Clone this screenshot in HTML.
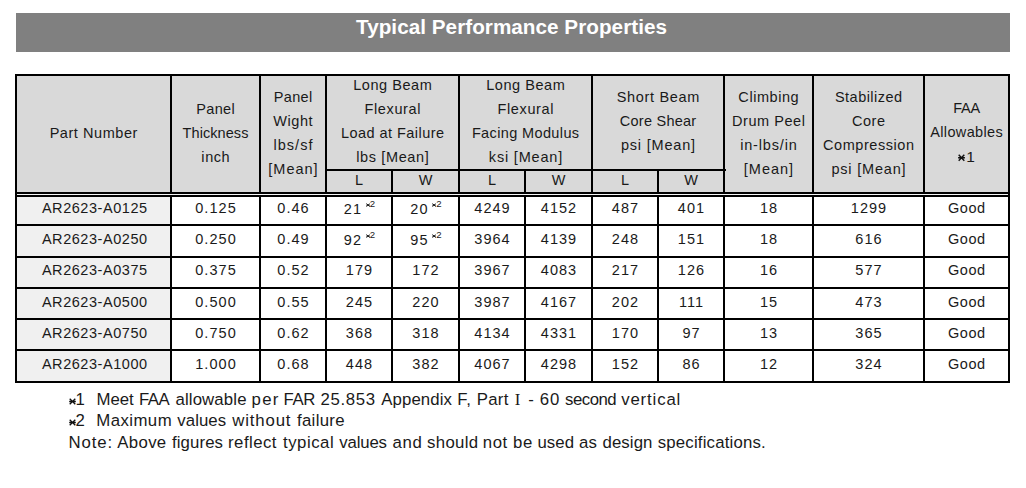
<!DOCTYPE html>
<html><head><meta charset="utf-8"><title>Typical Performance Properties</title>
<style>
html,body{margin:0;padding:0;background:#fff;}
body{width:1026px;height:488px;position:relative;overflow:hidden;font-family:"Liberation Sans",sans-serif;color:#1a1a1a;}
.r{position:absolute;}
.t{position:absolute;text-align:center;white-space:nowrap;line-height:20px;box-sizing:border-box;}
.f{position:absolute;white-space:nowrap;line-height:20px;}
.ast{display:inline-block;vertical-align:baseline;margin-right:1px;}
.sup{font-size:9.6px;position:relative;top:-7px;margin-left:3.6px;letter-spacing:0;}
.sup .ast{margin-right:0;}
.fast{display:inline-block;vertical-align:baseline;margin-right:0px;}
</style></head><body>
<div class="r" style="left:16px;top:13px;width:994px;height:39px;background:#808080"></div>
<div class="r" style="left:17px;top:76px;width:991px;height:116px;background:#d9d9d9"></div>
<div class="r" style="left:17px;top:197px;width:153px;height:184px;background:#f0f0f0"></div>
<div class="r" style="left:15px;top:74px;width:995px;height:2px;background:#000"></div>
<div class="r" style="left:15px;top:192px;width:995px;height:2px;background:#000"></div>
<div class="r" style="left:15px;top:195px;width:995px;height:2px;background:#000"></div>
<div class="r" style="left:15px;top:224px;width:995px;height:2px;background:#000"></div>
<div class="r" style="left:15px;top:256px;width:995px;height:2px;background:#000"></div>
<div class="r" style="left:15px;top:287px;width:995px;height:2px;background:#000"></div>
<div class="r" style="left:15px;top:318px;width:995px;height:2px;background:#000"></div>
<div class="r" style="left:15px;top:349px;width:995px;height:2px;background:#000"></div>
<div class="r" style="left:15px;top:381px;width:995px;height:2px;background:#000"></div>
<div class="r" style="left:325px;top:169px;width:401px;height:2px;background:#000"></div>
<div class="r" style="left:15px;top:74px;width:2px;height:309px;background:#000"></div>
<div class="r" style="left:170px;top:74px;width:2px;height:309px;background:#000"></div>
<div class="r" style="left:259px;top:74px;width:2px;height:309px;background:#000"></div>
<div class="r" style="left:325px;top:74px;width:2px;height:309px;background:#000"></div>
<div class="r" style="left:391px;top:169px;width:2px;height:214px;background:#000"></div>
<div class="r" style="left:458px;top:74px;width:2px;height:309px;background:#000"></div>
<div class="r" style="left:524px;top:169px;width:2px;height:214px;background:#000"></div>
<div class="r" style="left:591px;top:74px;width:2px;height:309px;background:#000"></div>
<div class="r" style="left:657px;top:169px;width:2px;height:214px;background:#000"></div>
<div class="r" style="left:723px;top:74px;width:2px;height:309px;background:#000"></div>
<div class="r" style="left:812px;top:74px;width:2px;height:309px;background:#000"></div>
<div class="r" style="left:923px;top:74px;width:2px;height:309px;background:#000"></div>
<div class="r" style="left:1008px;top:74px;width:2px;height:309px;background:#000"></div>
<div class="r" style="left:17px;top:194px;width:991px;height:1px;background:#f4f4f4"></div>
<div class="t" style="left:17px;width:153px;top:123.21px;font-size:14.5px;letter-spacing:0.55px;padding-left:0.55px;">Part Number</div>
<div class="t" style="left:172px;width:87px;top:99.21px;font-size:14.5px;letter-spacing:0.3px;padding-left:0.3px;">Panel</div>
<div class="t" style="left:172px;width:87px;top:123.21px;font-size:14.5px;letter-spacing:0.063px;padding-left:0.063px;">Thickness</div>
<div class="t" style="left:172px;width:87px;top:147.21px;font-size:14.5px;letter-spacing:0.55px;padding-left:0.55px;">inch</div>
<div class="t" style="left:261px;width:64px;top:87.21px;font-size:14.5px;letter-spacing:0.3px;padding-left:0.3px;">Panel</div>
<div class="t" style="left:261px;width:64px;top:111.21px;font-size:14.5px;letter-spacing:0.55px;padding-left:0.55px;">Wight</div>
<div class="t" style="left:261px;width:64px;top:135.21px;font-size:14.5px;letter-spacing:1.03px;padding-left:1.03px;">lbs/sf</div>
<div class="t" style="left:261px;width:64px;top:159.21px;font-size:14.5px;letter-spacing:0.99px;padding-left:0.99px;">[Mean]</div>
<div class="t" style="left:327px;width:131px;top:75.21px;font-size:14.5px;letter-spacing:0.55px;padding-left:0.55px;">Long Beam</div>
<div class="t" style="left:327px;width:131px;top:99.21px;font-size:14.5px;letter-spacing:0.636px;padding-left:0.636px;">Flexural</div>
<div class="t" style="left:327px;width:131px;top:123.21px;font-size:14.5px;letter-spacing:0.464px;padding-left:0.464px;">Load at Failure</div>
<div class="t" style="left:327px;width:131px;top:147.21px;font-size:14.5px;letter-spacing:0.639px;padding-left:0.639px;">lbs [Mean]</div>
<div class="t" style="left:460px;width:131px;top:75.21px;font-size:14.5px;letter-spacing:0.55px;padding-left:0.55px;">Long Beam</div>
<div class="t" style="left:460px;width:131px;top:99.21px;font-size:14.5px;letter-spacing:0.636px;padding-left:0.636px;">Flexural</div>
<div class="t" style="left:460px;width:131px;top:123.21px;font-size:14.5px;letter-spacing:0.373px;padding-left:0.373px;">Facing Modulus</div>
<div class="t" style="left:460px;width:131px;top:147.21px;font-size:14.5px;letter-spacing:0.806px;padding-left:0.806px;">ksi [Mean]</div>
<div class="t" style="left:593px;width:130px;top:87.21px;font-size:14.5px;letter-spacing:0.683px;padding-left:0.683px;">Short Beam</div>
<div class="t" style="left:593px;width:130px;top:111.21px;font-size:14.5px;letter-spacing:0.239px;padding-left:0.239px;">Core Shear</div>
<div class="t" style="left:593px;width:130px;top:135.21px;font-size:14.5px;letter-spacing:0.806px;padding-left:0.806px;">psi [Mean]</div>
<div class="t" style="left:725px;width:87px;top:87.21px;font-size:14.5px;letter-spacing:0.55px;padding-left:0.55px;">Climbing</div>
<div class="t" style="left:725px;width:87px;top:111.21px;font-size:14.5px;letter-spacing:0.55px;padding-left:0.55px;">Drum Peel</div>
<div class="t" style="left:725px;width:87px;top:135.21px;font-size:14.5px;letter-spacing:0.838px;padding-left:0.838px;">in-lbs/in</div>
<div class="t" style="left:725px;width:87px;top:159.21px;font-size:14.5px;letter-spacing:0.99px;padding-left:0.99px;">[Mean]</div>
<div class="t" style="left:814px;width:109px;top:87.21px;font-size:14.5px;letter-spacing:0.461px;padding-left:0.461px;">Stabilized</div>
<div class="t" style="left:814px;width:109px;top:111.21px;font-size:14.5px;letter-spacing:0.55px;padding-left:0.55px;">Core</div>
<div class="t" style="left:814px;width:109px;top:135.21px;font-size:14.5px;letter-spacing:0.55px;padding-left:0.55px;">Compression</div>
<div class="t" style="left:814px;width:109px;top:159.21px;font-size:14.5px;letter-spacing:0.806px;padding-left:0.806px;">psi [Mean]</div>
<div class="t" style="left:925px;width:83px;top:98.21px;font-size:14.5px;letter-spacing:-0.3px;padding-left:-0.3px;">FAA</div>
<div class="t" style="left:925px;width:83px;top:122.21px;font-size:14.5px;letter-spacing:0.339px;padding-left:0.339px;">Allowables</div>
<div class="t" style="left:925px;width:83px;top:146.88px;font-size:15.5px;letter-spacing:0.3px;padding-left:0.3px;"><svg class="ast" width="7" height="7.5" viewBox="0 0 7 7.5"><path d="M0.7 0.7L6.3 6.8M6.3 0.7L0.7 6.8M0.1 3.75H6.9" stroke="#111" stroke-width="1.4" fill="none"/></svg>1</div>
<div class="t" style="left:327px;width:64px;top:170.21px;font-size:14.5px;letter-spacing:0.55px;padding-left:0.55px;">L</div>
<div class="t" style="left:393px;width:65px;top:170.21px;font-size:14.5px;letter-spacing:0.55px;padding-left:0.55px;">W</div>
<div class="t" style="left:460px;width:64px;top:170.21px;font-size:14.5px;letter-spacing:0.55px;padding-left:0.55px;">L</div>
<div class="t" style="left:526px;width:65px;top:170.21px;font-size:14.5px;letter-spacing:0.55px;padding-left:0.55px;">W</div>
<div class="t" style="left:593px;width:64px;top:170.21px;font-size:14.5px;letter-spacing:0.55px;padding-left:0.55px;">L</div>
<div class="t" style="left:659px;width:64px;top:170.21px;font-size:14.5px;letter-spacing:0.55px;padding-left:0.55px;">W</div>
<div class="t" style="left:18px;width:153px;top:198.21px;font-size:14.5px;letter-spacing:0.55px;padding-left:0.55px;">AR2623-A0125</div>
<div class="t" style="left:172px;width:87px;top:198.21px;font-size:14.5px;letter-spacing:1.05px;padding-left:1.05px;">0.125</div>
<div class="t" style="left:261px;width:64px;top:198.21px;font-size:14.5px;letter-spacing:1.05px;padding-left:1.05px;">0.46</div>
<div class="t" style="left:327px;width:64px;top:199.21px;font-size:14.5px;letter-spacing:1.05px;padding-left:1.05px;">21<span class="sup"><svg class="ast" width="4.2" height="4.2" viewBox="0 0 7 7"><path d="M0.8 0.8L6.2 6.2M6.2 0.8L0.8 6.2M0.2 3.5H6.8" stroke="#111" stroke-width="1.5" fill="none"/></svg>2</span></div>
<div class="t" style="left:393px;width:65px;top:199.21px;font-size:14.5px;letter-spacing:1.05px;padding-left:1.05px;">20<span class="sup"><svg class="ast" width="4.2" height="4.2" viewBox="0 0 7 7"><path d="M0.8 0.8L6.2 6.2M6.2 0.8L0.8 6.2M0.2 3.5H6.8" stroke="#111" stroke-width="1.5" fill="none"/></svg>2</span></div>
<div class="t" style="left:460px;width:64px;top:198.21px;font-size:14.5px;letter-spacing:1.05px;padding-left:1.05px;">4249</div>
<div class="t" style="left:526px;width:65px;top:198.21px;font-size:14.5px;letter-spacing:1.05px;padding-left:1.05px;">4152</div>
<div class="t" style="left:593px;width:64px;top:198.21px;font-size:14.5px;letter-spacing:1.05px;padding-left:1.05px;">487</div>
<div class="t" style="left:659px;width:64px;top:198.21px;font-size:14.5px;letter-spacing:1.05px;padding-left:1.05px;">401</div>
<div class="t" style="left:725px;width:87px;top:198.21px;font-size:14.5px;letter-spacing:1.05px;padding-left:1.05px;">18</div>
<div class="t" style="left:814px;width:109px;top:198.21px;font-size:14.5px;letter-spacing:1.05px;padding-left:1.05px;">1299</div>
<div class="t" style="left:925px;width:83px;top:198.21px;font-size:14.5px;letter-spacing:0.55px;padding-left:0.55px;">Good</div>
<div class="t" style="left:18px;width:153px;top:229.21px;font-size:14.5px;letter-spacing:0.55px;padding-left:0.55px;">AR2623-A0250</div>
<div class="t" style="left:172px;width:87px;top:229.21px;font-size:14.5px;letter-spacing:1.05px;padding-left:1.05px;">0.250</div>
<div class="t" style="left:261px;width:64px;top:229.21px;font-size:14.5px;letter-spacing:1.05px;padding-left:1.05px;">0.49</div>
<div class="t" style="left:327px;width:64px;top:230.21px;font-size:14.5px;letter-spacing:1.05px;padding-left:1.05px;">92<span class="sup"><svg class="ast" width="4.2" height="4.2" viewBox="0 0 7 7"><path d="M0.8 0.8L6.2 6.2M6.2 0.8L0.8 6.2M0.2 3.5H6.8" stroke="#111" stroke-width="1.5" fill="none"/></svg>2</span></div>
<div class="t" style="left:393px;width:65px;top:230.21px;font-size:14.5px;letter-spacing:1.05px;padding-left:1.05px;">95<span class="sup"><svg class="ast" width="4.2" height="4.2" viewBox="0 0 7 7"><path d="M0.8 0.8L6.2 6.2M6.2 0.8L0.8 6.2M0.2 3.5H6.8" stroke="#111" stroke-width="1.5" fill="none"/></svg>2</span></div>
<div class="t" style="left:460px;width:64px;top:229.21px;font-size:14.5px;letter-spacing:1.05px;padding-left:1.05px;">3964</div>
<div class="t" style="left:526px;width:65px;top:229.21px;font-size:14.5px;letter-spacing:1.05px;padding-left:1.05px;">4139</div>
<div class="t" style="left:593px;width:64px;top:229.21px;font-size:14.5px;letter-spacing:1.05px;padding-left:1.05px;">248</div>
<div class="t" style="left:659px;width:64px;top:229.21px;font-size:14.5px;letter-spacing:1.05px;padding-left:1.05px;">151</div>
<div class="t" style="left:725px;width:87px;top:229.21px;font-size:14.5px;letter-spacing:1.05px;padding-left:1.05px;">18</div>
<div class="t" style="left:814px;width:109px;top:229.21px;font-size:14.5px;letter-spacing:1.05px;padding-left:1.05px;">616</div>
<div class="t" style="left:925px;width:83px;top:229.21px;font-size:14.5px;letter-spacing:0.55px;padding-left:0.55px;">Good</div>
<div class="t" style="left:18px;width:153px;top:260.21px;font-size:14.5px;letter-spacing:0.55px;padding-left:0.55px;">AR2623-A0375</div>
<div class="t" style="left:172px;width:87px;top:260.21px;font-size:14.5px;letter-spacing:1.05px;padding-left:1.05px;">0.375</div>
<div class="t" style="left:261px;width:64px;top:260.21px;font-size:14.5px;letter-spacing:1.05px;padding-left:1.05px;">0.52</div>
<div class="t" style="left:327px;width:64px;top:260.21px;font-size:14.5px;letter-spacing:1.05px;padding-left:1.05px;">179</div>
<div class="t" style="left:393px;width:65px;top:260.21px;font-size:14.5px;letter-spacing:1.05px;padding-left:1.05px;">172</div>
<div class="t" style="left:460px;width:64px;top:260.21px;font-size:14.5px;letter-spacing:1.05px;padding-left:1.05px;">3967</div>
<div class="t" style="left:526px;width:65px;top:260.21px;font-size:14.5px;letter-spacing:1.05px;padding-left:1.05px;">4083</div>
<div class="t" style="left:593px;width:64px;top:260.21px;font-size:14.5px;letter-spacing:1.05px;padding-left:1.05px;">217</div>
<div class="t" style="left:659px;width:64px;top:260.21px;font-size:14.5px;letter-spacing:1.05px;padding-left:1.05px;">126</div>
<div class="t" style="left:725px;width:87px;top:260.21px;font-size:14.5px;letter-spacing:1.05px;padding-left:1.05px;">16</div>
<div class="t" style="left:814px;width:109px;top:260.21px;font-size:14.5px;letter-spacing:1.05px;padding-left:1.05px;">577</div>
<div class="t" style="left:925px;width:83px;top:260.21px;font-size:14.5px;letter-spacing:0.55px;padding-left:0.55px;">Good</div>
<div class="t" style="left:18px;width:153px;top:292.21px;font-size:14.5px;letter-spacing:0.55px;padding-left:0.55px;">AR2623-A0500</div>
<div class="t" style="left:172px;width:87px;top:292.21px;font-size:14.5px;letter-spacing:1.05px;padding-left:1.05px;">0.500</div>
<div class="t" style="left:261px;width:64px;top:292.21px;font-size:14.5px;letter-spacing:1.05px;padding-left:1.05px;">0.55</div>
<div class="t" style="left:327px;width:64px;top:292.21px;font-size:14.5px;letter-spacing:1.05px;padding-left:1.05px;">245</div>
<div class="t" style="left:393px;width:65px;top:292.21px;font-size:14.5px;letter-spacing:1.05px;padding-left:1.05px;">220</div>
<div class="t" style="left:460px;width:64px;top:292.21px;font-size:14.5px;letter-spacing:1.05px;padding-left:1.05px;">3987</div>
<div class="t" style="left:526px;width:65px;top:292.21px;font-size:14.5px;letter-spacing:1.05px;padding-left:1.05px;">4167</div>
<div class="t" style="left:593px;width:64px;top:292.21px;font-size:14.5px;letter-spacing:1.05px;padding-left:1.05px;">202</div>
<div class="t" style="left:659px;width:64px;top:292.21px;font-size:14.5px;letter-spacing:1.05px;padding-left:1.05px;">111</div>
<div class="t" style="left:725px;width:87px;top:292.21px;font-size:14.5px;letter-spacing:1.05px;padding-left:1.05px;">15</div>
<div class="t" style="left:814px;width:109px;top:292.21px;font-size:14.5px;letter-spacing:1.05px;padding-left:1.05px;">473</div>
<div class="t" style="left:925px;width:83px;top:292.21px;font-size:14.5px;letter-spacing:0.55px;padding-left:0.55px;">Good</div>
<div class="t" style="left:18px;width:153px;top:323.21px;font-size:14.5px;letter-spacing:0.55px;padding-left:0.55px;">AR2623-A0750</div>
<div class="t" style="left:172px;width:87px;top:323.21px;font-size:14.5px;letter-spacing:1.05px;padding-left:1.05px;">0.750</div>
<div class="t" style="left:261px;width:64px;top:323.21px;font-size:14.5px;letter-spacing:1.05px;padding-left:1.05px;">0.62</div>
<div class="t" style="left:327px;width:64px;top:323.21px;font-size:14.5px;letter-spacing:1.05px;padding-left:1.05px;">368</div>
<div class="t" style="left:393px;width:65px;top:323.21px;font-size:14.5px;letter-spacing:1.05px;padding-left:1.05px;">318</div>
<div class="t" style="left:460px;width:64px;top:323.21px;font-size:14.5px;letter-spacing:1.05px;padding-left:1.05px;">4134</div>
<div class="t" style="left:526px;width:65px;top:323.21px;font-size:14.5px;letter-spacing:1.05px;padding-left:1.05px;">4331</div>
<div class="t" style="left:593px;width:64px;top:323.21px;font-size:14.5px;letter-spacing:1.05px;padding-left:1.05px;">170</div>
<div class="t" style="left:659px;width:64px;top:323.21px;font-size:14.5px;letter-spacing:1.05px;padding-left:1.05px;">97</div>
<div class="t" style="left:725px;width:87px;top:323.21px;font-size:14.5px;letter-spacing:1.05px;padding-left:1.05px;">13</div>
<div class="t" style="left:814px;width:109px;top:323.21px;font-size:14.5px;letter-spacing:1.05px;padding-left:1.05px;">365</div>
<div class="t" style="left:925px;width:83px;top:323.21px;font-size:14.5px;letter-spacing:0.55px;padding-left:0.55px;">Good</div>
<div class="t" style="left:18px;width:153px;top:354.21px;font-size:14.5px;letter-spacing:0.55px;padding-left:0.55px;">AR2623-A1000</div>
<div class="t" style="left:172px;width:87px;top:354.21px;font-size:14.5px;letter-spacing:1.05px;padding-left:1.05px;">1.000</div>
<div class="t" style="left:261px;width:64px;top:354.21px;font-size:14.5px;letter-spacing:1.05px;padding-left:1.05px;">0.68</div>
<div class="t" style="left:327px;width:64px;top:354.21px;font-size:14.5px;letter-spacing:1.05px;padding-left:1.05px;">448</div>
<div class="t" style="left:393px;width:65px;top:354.21px;font-size:14.5px;letter-spacing:1.05px;padding-left:1.05px;">382</div>
<div class="t" style="left:460px;width:64px;top:354.21px;font-size:14.5px;letter-spacing:1.05px;padding-left:1.05px;">4067</div>
<div class="t" style="left:526px;width:65px;top:354.21px;font-size:14.5px;letter-spacing:1.05px;padding-left:1.05px;">4298</div>
<div class="t" style="left:593px;width:64px;top:354.21px;font-size:14.5px;letter-spacing:1.05px;padding-left:1.05px;">152</div>
<div class="t" style="left:659px;width:64px;top:354.21px;font-size:14.5px;letter-spacing:1.05px;padding-left:1.05px;">86</div>
<div class="t" style="left:725px;width:87px;top:354.21px;font-size:14.5px;letter-spacing:1.05px;padding-left:1.05px;">12</div>
<div class="t" style="left:814px;width:109px;top:354.21px;font-size:14.5px;letter-spacing:1.05px;padding-left:1.05px;">324</div>
<div class="t" style="left:925px;width:83px;top:354.21px;font-size:14.5px;letter-spacing:0.55px;padding-left:0.55px;">Good</div>
<div class="t" style="left:14.5px;width:994.0px;top:17.36px;font-size:20.7px;letter-spacing:0.03px;padding-left:0.03px;font-weight:bold;color:#fff;">Typical Performance Properties</div>
<div class="f" style="left:68.6px;top:390.45px;font-size:16.8px;letter-spacing:0.3px"><svg class="fast" width="7" height="7" viewBox="0 0 7 7"><path d="M0.7 0.7L6.3 6.3M6.3 0.7L0.7 6.3M0.2 3.5H6.8" stroke="#111" stroke-width="1.3" fill="none"/></svg>1</div>
<div class="f" style="left:68.6px;top:411.45px;font-size:16.8px;letter-spacing:0.3px"><svg class="fast" width="7" height="7" viewBox="0 0 7 7"><path d="M0.7 0.7L6.3 6.3M6.3 0.7L0.7 6.3M0.2 3.5H6.8" stroke="#111" stroke-width="1.3" fill="none"/></svg>2</div>
<div class="f" style="left:96.62px;top:390.45px;font-size:16.8px;letter-spacing:-0.116px">Meet</div>
<div class="f" style="left:138.92px;top:390.45px;font-size:16.8px;letter-spacing:-0.5px">FAA</div>
<div class="f" style="left:175.49px;top:390.45px;font-size:16.8px;letter-spacing:0.127px">allowable</div>
<div class="f" style="left:251.52px;top:390.45px;font-size:16.8px;letter-spacing:1.34px">per</div>
<div class="f" style="left:283.62px;top:390.45px;font-size:16.8px;letter-spacing:-0.5px">FAR</div>
<div class="f" style="left:320.46px;top:390.45px;font-size:16.8px;letter-spacing:0.66px">25.853</div>
<div class="f" style="left:381.17px;top:390.45px;font-size:16.8px;letter-spacing:0.123px">Appendix</div>
<div class="f" style="left:457.32px;top:390.45px;font-size:16.8px;letter-spacing:0.658px">F,</div>
<div class="f" style="left:476.82px;top:390.45px;font-size:16.8px;letter-spacing:0.263px">Part</div>
<div class="f" style="left:514.8000000000001px;top:390.45px;font-size:16.8px;font-family:&quot;Liberation Serif&quot;,serif;">I</div>
<div class="f" style="left:528.35px;top:390.45px;font-size:16.8px;letter-spacing:0.35px">-</div>
<div class="f" style="left:539.65px;top:390.45px;font-size:16.8px;letter-spacing:1.023px">60</div>
<div class="f" style="left:565.03px;top:390.45px;font-size:16.8px;letter-spacing:-0.5px">second</div>
<div class="f" style="left:621.14px;top:390.45px;font-size:16.8px;letter-spacing:0.867px">vertical</div>
<div class="f" style="left:96.22px;top:411.45px;font-size:16.8px;letter-spacing:0.447px">Maximum</div>
<div class="f" style="left:177.34px;top:411.45px;font-size:16.8px;letter-spacing:0.04px">values</div>
<div class="f" style="left:232.32px;top:411.45px;font-size:16.8px;letter-spacing:0.828px">without</div>
<div class="f" style="left:296.96px;top:411.45px;font-size:16.8px;letter-spacing:0.321px">failure</div>
<div class="f" style="left:68.42px;top:433.45px;font-size:16.8px;letter-spacing:0.889px">Note:</div>
<div class="f" style="left:117.37px;top:433.45px;font-size:16.8px;letter-spacing:0.311px">Above</div>
<div class="f" style="left:172.06px;top:433.45px;font-size:16.8px;letter-spacing:0.087px">figures</div>
<div class="f" style="left:228.08px;top:433.45px;font-size:16.8px;letter-spacing:0.448px">reflect</div>
<div class="f" style="left:282.95px;top:433.45px;font-size:16.8px;letter-spacing:0.526px">typical</div>
<div class="f" style="left:339.34px;top:433.45px;font-size:16.8px;letter-spacing:-0.18px">values</div>
<div class="f" style="left:392.49px;top:433.45px;font-size:16.8px;letter-spacing:0.633px">and</div>
<div class="f" style="left:427.03px;top:433.45px;font-size:16.8px;letter-spacing:0.329px">should</div>
<div class="f" style="left:482.78px;top:433.45px;font-size:16.8px;letter-spacing:0.592px">not</div>
<div class="f" style="left:512.92px;top:433.45px;font-size:16.8px;letter-spacing:0.843px">be</div>
<div class="f" style="left:537.41px;top:433.45px;font-size:16.8px;letter-spacing:0.081px">used</div>
<div class="f" style="left:579.09px;top:433.45px;font-size:16.8px;letter-spacing:0.177px">as</div>
<div class="f" style="left:602.49px;top:433.45px;font-size:16.8px;letter-spacing:0.098px">design</div>
<div class="f" style="left:657.73px;top:433.45px;font-size:16.8px;letter-spacing:0.185px">specifications.</div>
</body></html>
